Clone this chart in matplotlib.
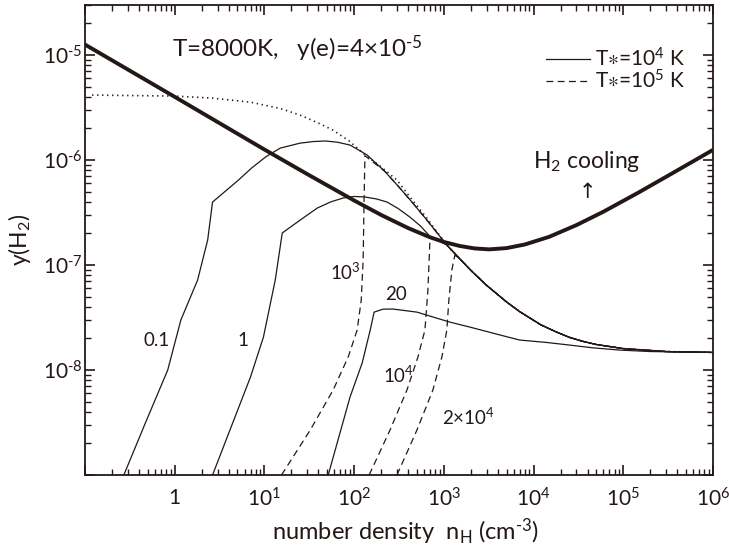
import numpy as np
import matplotlib
matplotlib.use('Agg')
import matplotlib.pyplot as plt
import matplotlib.ticker as mticker
from matplotlib.lines import Line2D

plt.rcParams['font.family'] = ['Lato', 'DejaVu Sans']
plt.rcParams['mathtext.fontset'] = 'custom'
plt.rcParams['mathtext.rm'] = 'Lato'
plt.rcParams['mathtext.it'] = 'Lato:italic'
plt.rcParams['mathtext.bf'] = 'Lato:bold'
plt.rcParams['mathtext.fallback'] = 'stixsans'

INK = '#231815'

# critical y(H2) above which H2 cooling wins
n_cool = [0.1, 1, 10, 30, 100, 200, 400, 700, 1000, 1500, 2200, 3200, 5000, 8000, 1.5e4,
          3e4, 6e4, 1.5e5, 4e5, 1e6]
y_cool = [1.26e-5, 4.0e-6, 1.26e-6, 7.35e-7, 4.12e-7, 3.0e-7, 2.25e-7, 1.84e-7, 1.66e-7,
          1.52e-7, 1.44e-7, 1.41e-7, 1.45e-7, 1.57e-7, 1.86e-7, 2.4e-7, 3.22e-7, 4.94e-7,
          7.97e-7, 1.25e-6]

# equilibrium abundance without radiation (dotted)
n_eq = [0.12, 1, 2.64, 7.0, 15, 25, 40, 58, 90, 132, 200, 300, 419, 647]
y_eq = [4.16e-6, 4.07e-6, 3.89e-6, 3.56e-6, 3.1e-6, 2.68e-6, 2.25e-6, 1.93e-6, 1.5e-6,
        1.12e-6, 8.6e-7, 6.45e-7, 4.45e-7, 2.8e-7]

# shared high-density branch
n_tail = [1072, 1500, 2000, 3000, 5000, 7000, 1.2e4, 1.8e4, 2.5e4, 3.5e4, 5e4, 1e5, 3e5, 1e6]
y_tail = [1.56e-7, 1.15e-7, 8.9e-8, 6.4e-8, 4.45e-8, 3.6e-8, 2.7e-8, 2.3e-8, 2.05e-8,
          1.88e-8, 1.75e-8, 1.6e-8, 1.5e-8, 1.47e-8]

# T* = 1e4 K runs, labelled by J21
n_j01 = [0.271, 0.476, 0.836, 1.17, 1.8, 2.33, 2.64, 5.14, 7.2, 10.3, 15, 25, 35, 47.6, 65,
         90, 139, 220, 324, 450, 647]
y_j01 = [1e-9, 3.2e-9, 1e-8, 2.99e-8, 7.2e-8, 1.73e-7, 3.98e-7, 6.45e-7, 8.4e-7, 1.07e-6,
         1.3e-6, 1.45e-6, 1.5e-6, 1.52e-6, 1.48e-6, 1.39e-6, 1.12e-6, 7.8e-7, 5.4e-7, 3.9e-7,
         2.68e-7]

n_j1 = [2.64, 7.0, 9.75, 13.2, 15.8, 25, 38.8, 55, 75.4, 100, 132, 180, 233, 310, 419, 550, 698]
y_j1 = [1e-9, 8.6e-9, 2.06e-8, 7.2e-8, 2.02e-7, 2.68e-7, 3.49e-7, 4.0e-7, 4.35e-7, 4.5e-7,
        4.45e-7, 4.25e-7, 3.98e-7, 3.45e-7, 2.86e-7, 2.35e-7, 1.88e-7]

n_j20 = [51.4, 90, 123, 151, 167, 210, 271, 501, 1166, 2000, 4190, 6990, 1.4e4, 2.5e4, 4.5e4,
         9e4, 2e5, 1e6]
y_j20 = [1e-9, 5.53e-9, 1.17e-8, 2.4e-8, 3.56e-8, 3.8e-8, 3.81e-8, 3.56e-8, 2.86e-8, 2.55e-8,
         2.16e-8, 1.93e-8, 1.83e-8, 1.73e-8, 1.63e-8, 1.55e-8, 1.5e-8, 1.47e-8]

# T* = 1e5 K runs
n_k1e3 = [15.5, 32.4, 58.4, 85.8, 108, 120, 126, 129, 132, 220, 324, 450, 647]
y_k1e3 = [1e-9, 2.68e-9, 6.46e-9, 1.33e-8, 2.4e-8, 4.64e-8, 1.12e-7, 4.16e-7, 1.1e-6,
          7.8e-7, 5.4e-7, 3.9e-7, 2.68e-7]

n_k1e4 = [147, 251, 388, 514, 615, 664, 698, 760]
y_k1e4 = [1e-9, 2.68e-9, 6.46e-9, 1.33e-8, 2.4e-8, 5.78e-8, 1.62e-7, 1.8e-7]

n_k2e4 = [300, 501, 755, 950, 1080, 1137, 1228, 1325]
y_k2e4 = [1e-9, 2.68e-9, 6.46e-9, 1.33e-8, 2.4e-8, 4.64e-8, 8.96e-8, 1.24e-7]


def with_tail(n, y, start=0):
    return list(n) + n_tail[start:], list(y) + y_tail[start:]


fig = plt.figure(figsize=(7.29, 5.5), dpi=100)
ax = fig.add_axes([85 / 729, 75 / 550, 628 / 729, 470 / 550])

thin = dict(color=INK, lw=0.9)
dash = dict(color=INK, lw=0.9, linestyle=(0, (5.5, 3.5)))

ax.plot(n_cool, y_cool, color=INK, lw=2.8, solid_capstyle='butt')
ax.plot(*with_tail(n_eq, y_eq), color=INK, lw=1.2, linestyle=(0, (0.8, 2.2)))
ax.plot(*with_tail(n_j01, y_j01), **thin)
ax.plot(*with_tail(n_j1, y_j1), **thin)
ax.plot(n_j20, y_j20, **thin)
ax.plot(*with_tail(n_k1e3, y_k1e3), **dash)
ax.plot(*with_tail(n_k1e4, y_k1e4), **dash)
ax.plot(*with_tail(n_k2e4, y_k2e4, 1), **dash)

ax.set_xscale('log')
ax.set_yscale('log')
ax.set_xlim(0.1, 1e6)
ax.set_ylim(1e-9, 3e-5)


def xfmt(v, pos):
    k = int(round(np.log10(v)))
    if k < 0:
        return ''
    return '1' if k == 0 else r'10$^{%d}$' % k


def yfmt(v, pos):
    k = int(round(np.log10(v)))
    if k <= -9:
        return ''
    return r'10$^{\text{-}%d}$' % -k


ax.xaxis.set_major_locator(mticker.FixedLocator([10.0 ** k for k in range(-1, 7)]))
ax.yaxis.set_major_locator(mticker.FixedLocator([10.0 ** k for k in range(-9, -4)]))
ax.xaxis.set_minor_locator(mticker.FixedLocator(
    [m * 10.0 ** k for k in range(-1, 6) for m in range(2, 10)]))
ax.yaxis.set_minor_locator(mticker.FixedLocator(
    [m * 10.0 ** k for k in range(-9, -4) for m in range(2, 10)]))
ax.xaxis.set_major_formatter(mticker.FuncFormatter(xfmt))
ax.yaxis.set_major_formatter(mticker.FuncFormatter(yfmt))
ax.xaxis.set_minor_formatter(mticker.NullFormatter())
ax.yaxis.set_minor_formatter(mticker.NullFormatter())

ax.tick_params(which='both', direction='in', top=True, right=True, color=INK, labelcolor=INK,
               labelsize=15)
ax.tick_params(which='major', length=7, width=1.2)
ax.tick_params(which='minor', length=4.5, width=1.0)
ax.tick_params(axis='x', pad=9)
ax.tick_params(axis='y', pad=1.5)
for s in ax.spines.values():
    s.set_linewidth(1.3)
    s.set_color(INK)

ax.set_xlabel(r'number density  n$_{\rm H}$ (cm$^{\text{-}3}$)', fontsize=17, color=INK)
ax.set_ylabel(r'y(H$_2$)', fontsize=16.5, color=INK)
ax.xaxis.set_label_coords(0.511, -0.088)
ax.yaxis.set_label_coords(-0.083, 0.5)

ax.text(0.1385, 0.889, r'T=8000K,   y(e)=4×10$^{\text{-}5}$', transform=ax.transAxes,
        fontsize=17.5, color=INK, ha='left', va='baseline')
ax.text(0.713, 0.653, r'H$_2$ cooling', transform=ax.transAxes, fontsize=16.5,
        color=INK, ha='left', va='baseline')
ax.text(4.0e4, 4.95e-7, '↑', fontsize=15, color=INK, ha='center', va='center',
        family=['DejaVu Sans'])

# curve labels
lab = dict(fontsize=13.5, color=INK, ha='left', va='baseline')
ax.text(0.45, 1.69e-8, '0.1', **lab)
ax.text(5.0, 1.69e-8, '1', **lab)
ax.text(54, 7.2e-8, r'10$^3$', **lab)
ax.text(221, 4.64e-8, '20', **lab)
ax.text(210, 7.5e-9, r'10$^4$', **lab)
ax.text(950, 3.0e-9, r'2×10$^4$', **lab)

handles = [Line2D([], [], **thin), Line2D([], [], **dash)]
ax.legend(handles, [r'T$\ast$=10$^4$ K', r'T$\ast$=10$^5$ K'], loc='upper right',
          bbox_to_anchor=(0.955, 0.91), frameon=False, fontsize=15, handlelength=2.1,
          handletextpad=0.25, labelspacing=-0.05, borderpad=0, borderaxespad=0,
          labelcolor=INK)

fig.savefig('out.png', dpi=100)
